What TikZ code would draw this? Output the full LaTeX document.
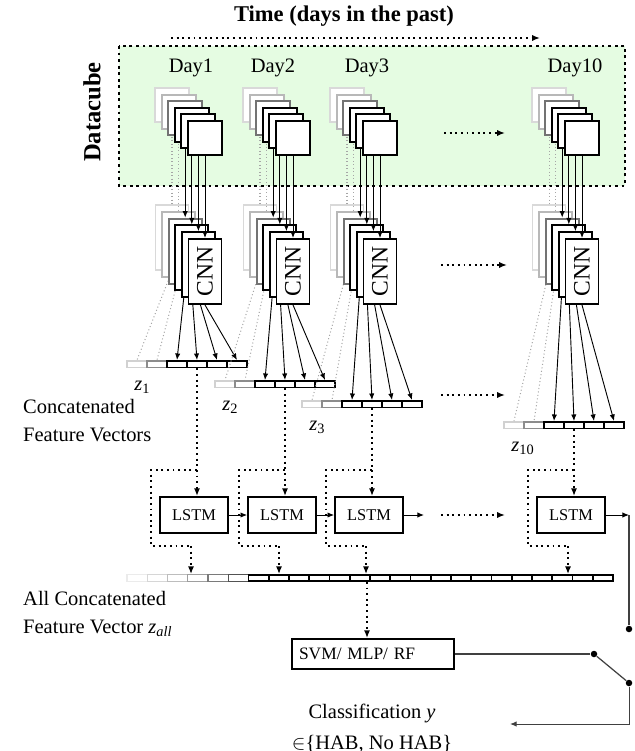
\documentclass[tikz,border=0pt]{standalone}
\usepackage{fontspec}
\setmainfont{Liberation Serif}
\usetikzlibrary{arrows.meta,positioning,calc}
\definecolor{cubegreen}{RGB}{229,252,226}
\colorlet{lay1}{black!15}
\colorlet{lay2}{black!28}
\colorlet{lay3}{black!55}
\colorlet{lay4}{black}
\colorlet{lay5}{black}
\colorlet{lay6}{black}
\colorlet{feat1}{black!18}
\colorlet{feat2}{black!45}
\colorlet{feat3}{black}
\colorlet{feat4}{black}
\colorlet{feat5}{black}
\colorlet{feat6}{black}
\colorlet{shade1}{black!8}
\colorlet{shade2}{black!16}
\colorlet{shade3}{black!26}
\colorlet{shade4}{black!38}
\colorlet{shade5}{black!52}
\colorlet{shade6}{black!68}
\newdimen\px \px=0.488pt

\begin{document}
\begin{tikzpicture}[x=0.488pt,y=-0.488pt,
    layer/.style={draw,fill=white,line width=0.95pt,inner sep=0pt},
    imgsq/.style={layer,minimum width=34\px,minimum height=34\px},
    cnnsq/.style={layer,minimum width=33\px,minimum height=65\px},
    cell/.style={layer,minimum width=20\px,minimum height=6.5\px},
    allcell/.style={layer,minimum width=20.25\px,minimum height=6.5\px},
    lstmbox/.style={draw,line width=0.9pt,minimum width=68\px,minimum height=36\px,
      inner sep=0pt,font=\fontsize{8}{9.6}\selectfont},
    svmbox/.style={draw,line width=0.9pt,text width=148\px,inner sep=7\px,
      minimum height=30\px,align=left,font=\fontsize{8.5}{10}\selectfont},
    swdot/.style={circle,fill,inner sep=0pt,minimum size=6.5\px},
    arr/.style={-{Latex[length=3.2pt,width=2.6pt]},line width=0.45pt},
    wire/.style={black!75,line width=0.6pt},
    dotline/.style={line width=0.95pt,dash pattern=on 0.95pt off 1.8pt},
    dotarr/.style={dotline,-{Latex[length=3.8pt,width=3pt]}},
    faint/.style={black!35,line width=0.5pt,dash pattern=on 0.5pt off 1.2pt}]
  \useasboundingbox (0,0) rectangle (634,751);

  % time axis and datacube
  \node[font=\bfseries\fontsize{11}{13}\selectfont] (title) at (344,16) {Time (days in the past)};
  \coordinate (t0) at (171,38);
  \coordinate (t1) at (540,38);
  \draw[dotarr] (t0) -- (t1);
  \draw[fill=cubegreen,line width=1.4pt,dash pattern=on 1.4pt off 1.8pt] (119,46) rectangle (625,186);
  \node[rotate=90,font=\bfseries\fontsize{12}{14}\selectfont] (cube) at (92,112) {Datacube};
  \foreach \d/\x in {1/191,2/273,3/367,10/575}
    \node (day\d) at (\x,68) {Day\d};

  % all concatenated feature vector
  \foreach \i in {1,...,24}{
    \ifnum\i<7
      \node[allcell,draw=shade\i,line width=0.6pt] (zall\i) at (116.875+20.25*\i,578) {};
    \else
      \node[allcell] (zall\i) at (116.875+20.25*\i,578) {};
    \fi
  }

  % one column per day
  \foreach \d/\off/\zt in {1/0/361,2/88/381,3/175/401,10/377/422}{
    \foreach \j in {1,...,6}
      \node[cell,draw=feat\j] (z\d-\j) at (117+\off+20*\j,\zt+3.25) {};
    \node[anchor=base west,inner sep=0pt] (zl\d) at ($(z\d-1.south west)+(8,22)$)
      {\textit{z}\textsubscript{\d}};
    \foreach \k in {1,...,6}{
      \pgfmathsetmacro\cx{172+\off+6.6*(\k-1)}
      \node[imgsq,draw=lay\k] (im\d-\k) at (\cx,98.4+6.6*\k) {};
      \node[cnnsq,draw=lay\k] (cnn\d-\k) at (\cx,230.7+6.8*\k) {};
      \ifnum\k<3
        \draw[faint] (im\d-\k.south) -- (cnn\d-\k.north);
        \draw[faint] (cnn\d-\k.south) -- (z\d-\k.north);
      \else
        \draw[arr] (im\d-\k.south) -- (cnn\d-\k.north);
        \draw[arr] (cnn\d-\k.south) -- (z\d-\k.north);
      \fi
    }
    \node[rotate=90,font=\fontsize{11.5}{13}\selectfont] (cnnl\d) at (cnn\d-6) {CNN};
    % LSTM and skip path
    \node[lstmbox] (lstm\d) at (194+\off,515) {LSTM};
    \draw[dotarr] (z\d-4.south) -- (z\d-4.south |- lstm\d.north);
    \coordinate (tap\d) at (z\d-4.south |- 0,470);
    \coordinate (drop\d) at ($(tap\d)+(-6,76)$);
    \draw[dotline] (tap\d) -- ++(-46,0) |- (drop\d);
    \draw[dotarr] (drop\d) -- (drop\d |- zall1.north);
  }

  % gaps between day 3 and day 10
  \foreach \y/\a/\b in {133/444/505,265/441/507,395/441/505,515/441/505}{
    \coordinate (ga\y) at (\a,\y);
    \coordinate (gb\y) at (\b,\y);
    \draw[dotarr] (ga\y) -- (gb\y);
  }

  % recurrent chain
  \coordinate (l3out) at (424,515);
  \draw[arr] (lstm1) -- (lstm2);
  \draw[arr] (lstm2) -- (lstm3);
  \draw[arr] (lstm3) -- (l3out);

  \node[anchor=west,align=left,font=\fontsize{10}{13.7}\selectfont] (cfv) at (16,421)
    {Concatenated\\Feature Vectors};
  \node[anchor=west,align=left,font=\fontsize{10}{13.7}\selectfont] (acfv) at (16,614)
    {All Concatenated\\Feature Vector \textit{z}\textsubscript{\textit{all}}};

  % classifier and switch
  \node[svmbox] (svm) at (373,654) {SVM/ MLP/ RF};
  \coordinate (svmin) at ($(svm.north)+(-6,0)$);
  \draw[dotarr] (svmin |- zall1.south) -- (svmin);
  \node[swdot] (swA) at (629,629) {};
  \node[swdot] (swB) at (594,654) {};
  \node[swdot] (swC) at (629,683) {};
  \coordinate (rt) at (629,515);
  \draw[arr] (lstm10) -- (rt);
  \draw[wire] (rt) -- (swA);
  \draw[wire] (svm) -- (swB);
  \draw[wire] (swB) -- (swC);
  \node[align=center,font=\fontsize{10}{15}\selectfont] (cls) at (372,728)
    {Classification \textit{y}\\$\in$\{HAB, No HAB\}};
  \coordinate (clsend) at (510,724);
  \draw[wire,arr] (swC) |- (clsend);
\end{tikzpicture}
\end{document}
